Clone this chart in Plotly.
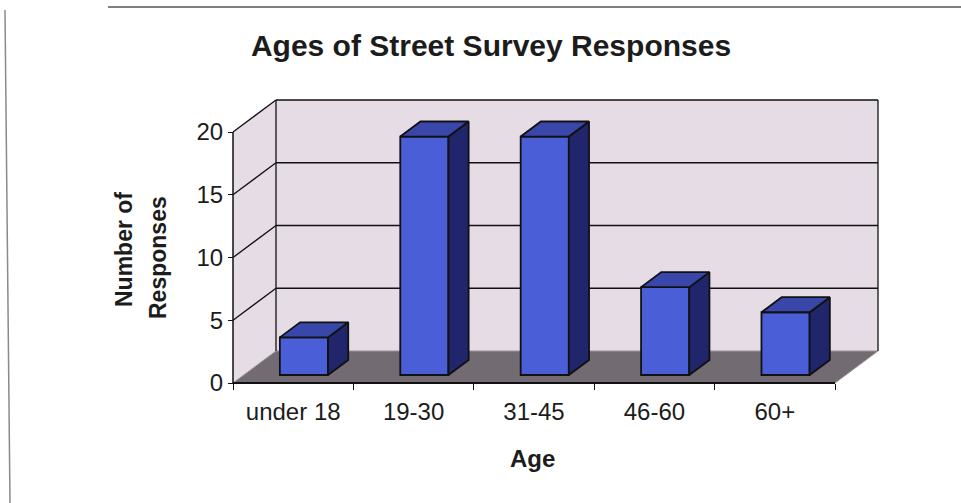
import plotly.graph_objects as go

# ---------------- data ----------------
categories = ["under 18", "19-30", "31-45", "46-60", "60+"]
responses = [3, 19, 19, 7, 5]
y_ticks = [0, 5, 10, 15, 20]

# ---------------- geometry (pixels of the reference) ----------------
W, H = 961, 503
L, T, R, B = 233, 100, 878, 383      # back-wall / front-floor extents
FRONT_R = 835                         # right end of front floor edge
FRONT_TOP = 132                       # y pixel of value 20 on front plane
PAD = 5
N = len(categories)
YMAX = 20

ux = (FRONT_R - L) / N                # pixels per category
uy = (B - FRONT_TOP) / YMAX           # pixels per unit
DX = (R - FRONT_R) / ux               # depth shift in x data units
DY = (FRONT_TOP - T) / uy             # depth shift in y data units

xr = [-PAD / ux, (R - L + PAD) / ux]
yr = [-PAD / uy, (B - T + PAD) / uy]
plot_w = R - L + 2 * PAD
plot_h = B - T + 2 * PAD

WALL = "#e6dce6"
FLOOR = "#726b71"
FRONT = "#4a5ed8"
TOP = "#3947ab"
SIDE = "#20256c"
EDGE = "#111111"
TXT = "#1c1c1c"
FONT = "Liberation Sans, Arial, sans-serif"

F0, F1 = 0.25, 0.72                   # bar front/back depth fractions
BW = 0.4                              # bar width (category units)

fig = go.Figure()

shapes = []
def poly(pts, fill, line="rgba(0,0,0,0)", lw=0):
    d = "M " + " L ".join(f"{x},{y}" for x, y in pts) + " Z"
    shapes.append(dict(type="path", path=d, xref="x", yref="y", fillcolor=fill,
                       line=dict(color=line, width=lw), layer="below"))
def seg(x0, y0, x1, y1, color=EDGE, w=1.3):
    shapes.append(dict(type="line", x0=x0, y0=y0, x1=x1, y1=y1, xref="x", yref="y",
                       line=dict(color=color, width=w), layer="below"))

# walls & floor
poly([(0, 0), (DX, DY), (DX, YMAX + DY), (0, YMAX)], WALL)
poly([(DX, DY), (N + DX, DY), (N + DX, YMAX + DY), (DX, YMAX + DY)], WALL)
poly([(0, 0), (N, 0), (N + DX, DY), (DX, DY)], FLOOR, "#9a9498", 1)
# gridlines
for v in y_ticks[1:-1]:
    seg(DX, v + DY, N + DX, v + DY)
    seg(0, v, DX, v + DY)
# borders
seg(DX, YMAX + DY, N + DX, YMAX + DY)
seg(0, YMAX, DX, YMAX + DY)
seg(DX, DY, DX, YMAX + DY)
seg(N + DX, DY, N + DX, YMAX + DY)
seg(0, 0, 0, YMAX, w=1.5)
seg(0, 0, N, 0, w=1.8)

# bars: front faces
xc = [i + 0.5 + F0 * DX for i in range(N)]
base = F0 * DY
fig.add_trace(go.Bar(x=xc, y=responses, base=[base] * N, width=BW,
                     marker=dict(color=FRONT, line=dict(color=EDGE, width=1.8)),
                     hoverinfo="skip", showlegend=False))

ddx = (F1 - F0) * DX
ddy = (F1 - F0) * DY
sx, sy, tx, ty = [], [], [], []
for c, v in zip(xc, responses):
    xl, xrr = c - BW / 2, c + BW / 2
    yb, yt = base, base + v
    sx += [xrr, xrr + ddx, xrr + ddx, xrr, xrr, None]
    sy += [yb, yb + ddy, yt + ddy, yt, yb, None]
    tx += [xl, xrr, xrr + ddx, xl + ddx, xl, None]
    ty += [yt, yt, yt + ddy, yt + ddy, yt, None]
fig.add_trace(go.Scatter(x=sx, y=sy, mode="lines", fill="toself", fillcolor=SIDE,
                         line=dict(color=EDGE, width=1.8), hoverinfo="skip", showlegend=False))
fig.add_trace(go.Scatter(x=tx, y=ty, mode="lines", fill="toself", fillcolor=TOP,
                         line=dict(color=EDGE, width=1.8), hoverinfo="skip", showlegend=False))

# frame around chart area (paper coords derived from pixels)
def pxx(X): return (X - (L - PAD)) / plot_w
def pxy(Y): return ((B + PAD) - Y) / plot_h
shapes.append(dict(type="line", xref="paper", yref="paper", x0=pxx(108), y0=pxy(7),
                   x1=pxx(961), y1=pxy(7), line=dict(color="#555555", width=1.5)))
shapes.append(dict(type="line", xref="paper", yref="paper", x0=pxx(5), y0=pxy(10),
                   x1=pxx(10), y1=pxy(503), line=dict(color="#8a8a8a", width=1.5)))

annotations = [
    dict(text="<b>Age</b>", x=pxx(532), y=pxy(458), xref="paper", yref="paper",
         xanchor="center", yanchor="middle",
         showarrow=False, font=dict(size=24, color=TXT, family=FONT)),
    dict(text="<b>Number of</b>", x=pxx(124), y=pxy(250), xref="paper", yref="paper",
         xanchor="center", yanchor="middle",
         showarrow=False, textangle=-90, font=dict(size=23, color=TXT, family=FONT)),
    dict(text="<b>Responses</b>", x=pxx(158), y=pxy(258), xref="paper", yref="paper",
         xanchor="center", yanchor="middle",
         showarrow=False, textangle=-90, font=dict(size=23, color=TXT, family=FONT)),
]

fig.update_layout(
    width=W, height=H,
    margin=dict(l=L - PAD, r=W - R - PAD, t=T - PAD, b=H - B - PAD, pad=0),
    paper_bgcolor="white", plot_bgcolor="white",
    title=dict(text="<b>Ages of Street Survey Responses</b>", x=491 / W, xanchor="center",
               y=1 - 45 / H, yanchor="middle", xref="container", yref="container",
               font=dict(size=30, color=TXT, family=FONT)),
    shapes=shapes, annotations=annotations, showlegend=False,
    xaxis=dict(range=xr, showgrid=False, zeroline=False, showline=False,
               tickmode="array", tickvals=[i + 0.5 for i in range(N)], ticktext=categories,
               ticks="", tickfont=dict(size=24, color=TXT, family=FONT),
               anchor="free", position=PAD / plot_h, ticklabelstandoff=12,
               minor=dict(tickmode="array", tickvals=list(range(N + 1)), ticks="outside",
                          ticklen=6, tickcolor=EDGE, tickwidth=1.3, showgrid=False)),
    yaxis=dict(range=yr, showgrid=False, zeroline=False, showline=False,
               tickmode="array", tickvals=y_ticks, ticks="outside", ticklen=5,
               tickcolor=EDGE, tickwidth=1.3,
               tickfont=dict(size=24, color=TXT, family=FONT),
               anchor="free", position=PAD / plot_w),
)

fig.write_html("out.html")
